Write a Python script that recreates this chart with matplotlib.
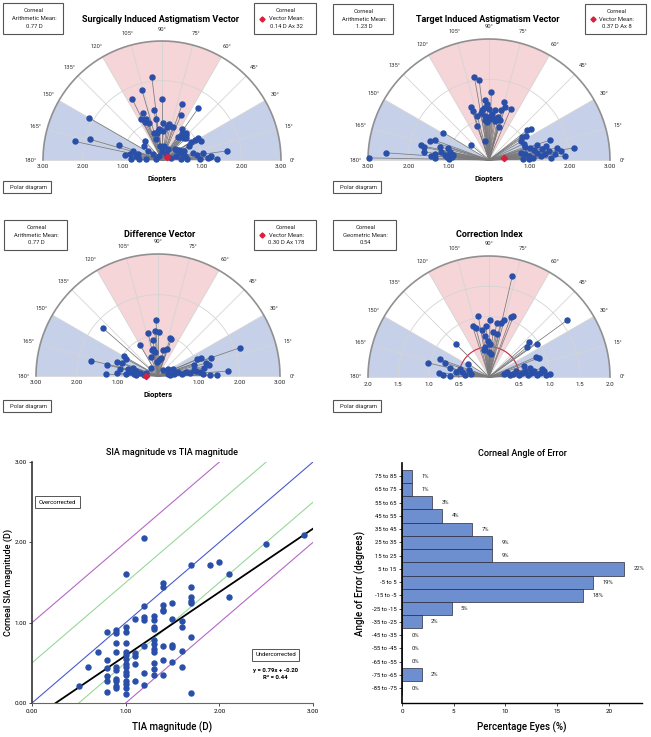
import numpy as np
import matplotlib
matplotlib.use("Agg")
import matplotlib.pyplot as plt
from matplotlib.patches import Wedge, Rectangle

plt.rcParams['font.family'] = ['Roboto', 'DejaVu Sans']

W, H = 651, 737

# ---- polar data: magnitude (D) and axis (deg) ----
sia_mag = [2.11, 1.84, 1.71, 1.53, 1.51, 1.59, 2.13, 1.29, 1.27, 1.23, 1.11, 1.15, 1.04, 0.94,
           0.92, 0.88, 0.93, 0.83, 0.73, 1.07, 1.10, 2.25, 1.88, 1.15, 1.66, 1.39, 1.22, 1.25,
           0.80, 0.95, 0.77, 1.05, 0.98, 0.78, 0.70, 0.85, 0.88, 0.85, 0.80, 0.78, 0.86, 0.75,
           0.90, 0.70, 0.82, 0.97, 0.86, 0.77, 0.45, 0.50, 0.55, 0.42, 0.52, 0.60, 0.58, 0.38,
           0.49, 0.24, 0.62, 1.05, 1.16, 0.95, 0.88, 0.83, 0.77, 0.57, 0.40, 0.66, 0.65, 0.58,
           0.42, 0.27, 0.63, 0.54, 0.36, 0.36, 0.31, 0.23, 0.18, 0.13, 0.15, 0.75, 0.72]
sia_axis = [97, 106, 116, 90, 70, 55, 150, 112, 99, 67, 111, 117, 98, 88,
            79, 72, 57, 52, 88, 32, 26, 168, 164, 161, 8, 1, 4, 5,
            12, 172, 179, 114, 110, 95, 100, 82, 76, 50, 48, 45, 46, 52,
            48, 55, 42, 32, 31, 27, 35, 30, 25, 40, 20, 22, 10, 16,
            4, 12, 2, 9, 3, 2, 8, 170, 163, 177, 175, 171, 132, 142,
            147, 148, 165, 105, 100, 80, 61, 88, 52, 127, 167, 98, 107]

tia_mag = [2.10, 1.99, 1.68, 1.48, 1.39, 1.48, 1.37, 1.38, 1.39, 1.29, 1.24, 1.30, 1.27, 1.27,
           1.14, 1.06, 1.05, 0.99, 1.10, 1.02, 0.88, 0.86, 1.10, 1.02, 0.47, 0.59, 1.32, 2.98,
           2.57, 1.73, 1.64, 1.54, 1.43, 1.62, 1.45, 1.35, 1.33, 1.06, 1.00, 1.05, 0.98, 0.92,
           0.95, 1.20, 1.29, 0.99, 1.10, 0.93, 2.12, 1.89, 1.60, 1.65, 0.95, 1.05, 1.15, 1.25,
           1.35, 1.45, 1.50, 1.40, 1.30, 1.20, 1.10, 1.00, 0.90, 0.85, 1.55, 1.70, 1.80, 0.80,
           1.00, 0.95, 1.20, 1.25, 0.90, 1.10, 1.18, 1.00, 1.15, 0.95, 1.25]
tia_axis = [100, 97, 88, 94, 92, 75, 73, 67, 109, 108, 98, 96, 90, 76,
            105, 91, 85, 81, 78, 74, 109, 74, 95, 88, 102, 140, 149, 179,
            176, 168, 169, 162, 160, 173, 176, 174, 178, 163, 168, 176, 178, 175,
            171, 38, 36, 35, 33, 30, 8, 3, 18, 5, 20, 16, 13, 17,
            12, 14, 9, 6, 4, 8, 3, 6, 10, 2, 2, 10, 7, 12,
            1, 25, 170, 165, 172, 173, 100, 96, 86, 93, 83]

dv_mag = [1.39, 1.80, 1.09, 1.12, 1.09, 0.89, 0.96, 0.98, 0.88, 0.68, 0.66, 0.60, 0.65, 0.70,
          0.45, 0.40, 0.50, 0.35, 2.12, 1.73, 1.28, 1.37, 1.14, 1.05, 1.21, 0.92, 1.15, 0.90,
          0.95, 1.05, 0.80, 0.70, 0.60, 0.50, 0.40, 0.30, 0.25, 1.69, 1.29, 1.28, 1.07, 0.96,
          0.88, 0.93, 0.95, 0.75, 0.70, 0.60, 0.55, 0.45, 0.35, 0.30, 1.27, 1.46, 1.10, 0.20,
          0.25, 0.55, 0.80, 1.00, 0.65, 0.30, 0.40]
dv_axis = [92, 139, 103, 94, 89, 98, 70, 72, 120, 100, 104, 97, 78, 71,
           82, 88, 110, 95, 19, 4, 12, 19, 23, 23, 15, 17, 10, 9,
           7, 6, 5, 8, 4, 10, 6, 3, 12, 167, 168, 178, 161, 150,
           152, 160, 169, 167, 172, 175, 168, 170, 176, 165, 1, 1, 2, 50,
           130, 178, 177, 176, 162, 35, 25]

ci_mag = [1.72, 1.59, 1.08, 1.05, 1.02, 0.95, 0.90, 0.97, 0.92, 0.88, 0.84, 0.78, 0.85, 0.75,
          0.72, 0.68, 0.60, 0.55, 0.50, 0.45, 0.42, 0.38, 0.77, 0.88, 0.96, 0.80, 0.89, 0.85,
          1.04, 0.86, 0.76, 0.67, 0.83, 0.76, 0.65, 0.41, 0.35, 0.40, 0.45, 0.50, 0.55, 0.30,
          1.01, 0.92, 0.85, 0.80, 0.75, 0.70, 0.65, 0.60, 0.55, 0.50, 0.45, 0.40, 0.35, 0.30,
          0.25, 0.60, 0.70, 0.95, 0.88]
ci_axis = [77, 36, 68, 70, 100, 89, 82, 75, 78, 108, 105, 98, 93, 85,
           80, 95, 92, 88, 97, 101, 90, 85, 135, 41, 35, 38, 21, 23,
           167, 160, 162, 167, 175, 178, 179, 148, 160, 175, 170, 165, 172, 170,
           3, 6, 4, 2, 8, 5, 3, 10, 7, 4, 12, 8, 5, 15,
           10, 18, 12, 2, 9]

# ---- scatter data ----
tia_x = [0.5, 0.6, 0.7, 0.8, 0.8, 0.8, 0.8, 0.8, 0.8,
         0.9, 0.9, 0.9, 0.9, 0.9, 0.9, 0.9, 0.9, 0.9, 0.9,
         1.0, 1.0, 1.0, 1.0, 1.0, 1.0, 1.0, 1.0, 1.0, 1.0, 1.0, 1.0, 1.0, 1.0, 1.0,
         1.1, 1.1, 1.1, 1.1, 1.1,
         1.2, 1.2, 1.2, 1.2, 1.2, 1.2, 1.2,
         1.3, 1.3, 1.3, 1.3, 1.3, 1.3, 1.3, 1.3, 1.3, 1.3, 1.3,
         1.4, 1.4, 1.4, 1.4, 1.4, 1.4, 1.4, 1.4,
         1.5, 1.5, 1.5, 1.5, 1.5,
         1.6, 1.6, 1.6, 1.6,
         1.7, 1.7, 1.7, 1.7, 1.7, 1.7, 1.7,
         1.9, 2.0, 2.1, 2.1, 2.5, 2.9]
sia_y = [0.21, 0.45, 0.64, 0.89, 0.53, 0.43, 0.33, 0.28, 0.14,
         0.91, 0.87, 0.75, 0.64, 0.45, 0.41, 0.30, 0.28, 0.21, 0.19,
         1.61, 0.94, 0.89, 0.75, 0.64, 0.60, 0.55, 0.49, 0.45, 0.39, 0.35, 0.28, 0.24, 0.19, 0.11,
         1.05, 0.62, 0.58, 0.49, 0.27,
         2.05, 1.21, 1.07, 1.03, 0.71, 0.37, 0.22,
         1.08, 1.03, 0.95, 0.92, 0.78, 0.74, 0.67, 0.64, 0.50, 0.42, 0.35,
         1.50, 1.44, 1.22, 1.16, 1.14, 0.71, 0.54, 0.35,
         1.25, 1.04, 0.72, 0.70, 0.51,
         1.02, 0.94, 0.65, 0.45,
         1.72, 1.44, 1.32, 1.27, 1.24, 0.82, 0.12,
         1.72, 1.75, 1.61, 1.32, 1.98, 2.09]
fit_slope, fit_icept = 0.79, -0.20

# ---- angle of error histogram ----
aoe_bins = ["75 to 85", "65 to 75", "55 to 65", "45 to 55", "35 to 45", "25 to 35", "15 to 25",
            "5 to 15", "-5 to 5", "-15 to -5", "-25 to -15", "-35 to -25", "-45 to -35",
            "-55 to -45", "-65 to -55", "-75 to -65", "-85 to -75"]
aoe_pct = [0.97, 0.97, 2.9, 3.9, 6.8, 8.7, 8.7, 21.5, 18.5, 17.5, 4.8, 1.9, 0, 0, 0, 1.9, 0]
aoe_lbl = ["1%", "1%", "3%", "4%", "7%", "9%", "9%", "22%", "19%", "18%", "5%", "2%",
           "0%", "0%", "0%", "2%", "0%"]

BLUE_PT = '#2a4fa8'
SHADE_B = '#c6d1e9'
SHADE_P = '#f6d5d8'

fig = plt.figure(figsize=(W / 100, H / 100), dpi=100)


def px_axes(x0, y0, x1, y1):
    return fig.add_axes([x0 / W, 1 - y1 / H, (x1 - x0) / W, (y1 - y0) / H])


def polar_panel(box, center, R, rmax, rings, rlabels, mags, axes_deg, diopters=True, vmean=None, ci=False):
    x0, y0, x1, y1 = box
    cx, cy = center
    s = R / rmax
    ax = px_axes(x0, y0, x1, y1)
    ax.set_xlim((x0 - cx) / s, (x1 - cx) / s)
    ax.set_ylim((cy - y1) / s, (cy - y0) / s)
    ax.axis('off')
    ax.add_patch(Wedge((0, 0), rmax, 0, 30, fc=SHADE_B, ec='none'))
    ax.add_patch(Wedge((0, 0), rmax, 150, 180, fc=SHADE_B, ec='none'))
    ax.add_patch(Wedge((0, 0), rmax, 60, 120, fc=SHADE_P, ec='none'))
    th = np.linspace(0, np.pi, 200)
    for r in rings:
        ax.plot(r * np.cos(th), r * np.sin(th), color='#d4d4d4', lw=0.6)
    for a in range(0, 181, 15):
        t = np.radians(a)
        ax.plot([0, rmax * np.cos(t)], [0, rmax * np.sin(t)], color='#d4d4d4', lw=0.6)
        lr = rmax * 1.1
        ax.text(lr * np.cos(t), lr * np.sin(t), f"{a}°", fontsize=4.2, ha='center', va='center', color='#333')
    ax.plot(rmax * np.cos(th), rmax * np.sin(th), color='#909090', lw=1.2)
    for r, lab in rlabels:
        ax.text(r, -7 / s, lab, fontsize=4.5, ha='center', va='center', color='#222')
        ax.text(-r, -7 / s, lab, fontsize=4.5, ha='center', va='center', color='#222')
    if diopters:
        ax.text(0, -18 / s, "Diopters", fontsize=5.5, fontweight='bold', ha='center', va='center')
    if ci:
        ax.plot(0.5 * np.cos(th), 0.5 * np.sin(th), color='#c8304a', lw=0.8)
    m = np.array(mags)
    t = np.radians(np.array(axes_deg))
    xs, ys = m * np.cos(t), m * np.sin(t)
    for xx, yy in zip(xs, ys):
        ax.plot([0, xx], [0, yy], color='#7a7a7a', lw=0.55, zorder=3)
    ax.plot(xs, ys, 'o', color=BLUE_PT, ms=3.6, mec=BLUE_PT, zorder=4)
    if vmean is not None:
        vm, va = vmean
        ax.plot(vm * np.cos(np.radians(va)), vm * np.sin(np.radians(va)), 'D', color='#d8203c', ms=3.2, zorder=5)
    return ax


rl3 = [(1, "1.00"), (2, "2.00"), (3, "3.00")]
polar_panel((0, 0, 325, 197), (162, 160), 119, 3, [1, 2], rl3, sia_mag, sia_axis, vmean=(0.14, 32))
polar_panel((325, 0, 651, 197), (489, 160), 121, 3, [1, 2], rl3, tia_mag, tia_axis, vmean=(0.37, 8))
polar_panel((0, 197, 325, 412), (158, 376), 122, 3, [1, 2], rl3, dv_mag, dv_axis, vmean=(0.30, 178))
polar_panel((325, 197, 651, 412), (489, 377), 121, 2, [0.5, 1, 1.5],
            [(0.5, "0.5"), (1, "1.0"), (1.5, "1.5"), (2, "2.0")], ci_mag, ci_axis, diopters=False, ci=True)

# ---- overlay for boxes and titles (pixel coords) ----
ov = fig.add_axes([0, 0, 1, 1])
ov.set_xlim(0, W)
ov.set_ylim(H, 0)
ov.axis('off')
ov.patch.set_visible(False)


def box(x0, y0, x1, y1, lines, diamond=False):
    ov.add_patch(Rectangle((x0, y0), x1 - x0, y1 - y0, fc='white', ec='#555', lw=0.8))
    n = len(lines)
    for i, l in enumerate(lines):
        yy = y0 + (y1 - y0) * (i + 1) / (n + 1)
        ov.text((x0 + x1) / 2 + 1, yy, l, fontsize=4.2, ha='center', va='center', color='#222')
    if diamond:
        ov.plot(x0 + 8, y0 + (y1 - y0) * 2 / 4, 'D', color='#d8203c', ms=2.6)


box(3, 3, 63, 34, ["Corneal", "Arithmetic Mean:", "0.77 D"])
box(254, 3, 316, 34, ["Corneal", "Vector Mean:", "0.14 D Ax 32"], diamond=True)
box(333, 4, 393, 34, ["Corneal", "Arithmetic Mean:", "1.23 D"])
box(585, 4, 646, 34, ["Corneal", "Vector Mean:", "0.37 D Ax 8"], diamond=True)
box(4, 220, 67, 250, ["Corneal", "Arithmetic Mean:", "0.77 D"])
box(254, 220, 316, 250, ["Corneal", "Vector Mean:", "0.30 D Ax 178"], diamond=True)
box(333, 220, 396, 250, ["Corneal", "Geometric Mean:", "0.54"])
for bx, by in [(3, 181), (333, 181), (3, 400), (333, 400)]:
    box(bx, by, bx + 48, by + 12, ["Polar diagram"])

ov.text(160, 19, "Surgically Induced Astigmatism Vector", fontsize=6.5, fontweight='bold', ha='center', va='center')
ov.text(488, 19, "Target Induced Astigmatism Vector", fontsize=6.5, fontweight='bold', ha='center', va='center')
ov.text(160, 234, "Difference Vector", fontsize=6.5, fontweight='bold', ha='center', va='center')
ov.text(489, 234, "Correction Index", fontsize=6.5, fontweight='bold', ha='center', va='center')

# ---- scatter: SIA vs TIA ----
sx = px_axes(32, 462, 313, 703)
xx = np.array([0, 3])
sx.plot([0, 2], [1, 3], color='#b468c8', lw=0.8)
sx.plot([1, 3], [0, 2], color='#b468c8', lw=0.8)
sx.plot([0, 2.5], [0.5, 3], color='#98d898', lw=0.8)
sx.plot([0.5, 3], [0, 2.5], color='#98d898', lw=0.8)
sx.plot(xx, xx, color='#4a5ad0', lw=0.8)
x_fit0 = -fit_icept / fit_slope
sx.plot([x_fit0, 3], [0, fit_slope * 3 + fit_icept], color='black', lw=1.3)
sx.plot(tia_x, sia_y, 'o', color=BLUE_PT, ms=3.6, zorder=4)
sx.set_xlim(0, 3)
sx.set_ylim(0, 3)
sx.set_xticks([0, 1, 2, 3])
sx.set_yticks([0, 1, 2, 3])
sx.set_xticklabels(["0.00", "1.00", "2.00", "3.00"], fontsize=4.5)
sx.set_yticklabels(["0.00", "1.00", "2.00", "3.00"], fontsize=4.5)
sx.tick_params(length=2, width=0.5, pad=2)
for sp in ['top', 'right']:
    sx.spines[sp].set_visible(False)
sx.spines['left'].set_linewidth(1.2)
sx.spines['left'].set_color('#333')
sx.spines['bottom'].set_linewidth(0.8)
sx.spines['bottom'].set_color('#666')
sx.set_xlabel("TIA magnitude (D)", fontsize=7, fontweight='medium', labelpad=6)
sx.set_ylabel("Corneal SIA magnitude (D)", fontsize=6.5, fontweight='medium', labelpad=1)
sx.set_title("SIA magnitude vs TIA magnitude", fontsize=6.5, fontweight='medium', pad=5)
sx.text(0.27, 2.5, "Overcorrected", fontsize=4.3, ha='center', va='center',
        bbox=dict(boxstyle='square,pad=0.6', fc='white', ec='#555', lw=0.7))
sx.text(2.6, 0.6, "Undercorrected", fontsize=4.3, ha='center', va='center',
        bbox=dict(boxstyle='square,pad=0.6', fc='white', ec='#555', lw=0.7))
sx.text(2.6, 0.36, "y = 0.79x + -0.20\nR² = 0.44", fontsize=4.3, fontweight='bold',
        ha='center', va='center', linespacing=1.3)

# ---- horizontal histogram ----
hx = px_axes(402, 463, 642, 703)
ypos = np.arange(len(aoe_bins))[::-1]
hx.barh(ypos, aoe_pct, height=1.0, color='#6e8fcf', edgecolor='#2a2a3a', lw=0.5)
for yv, v, lab in zip(ypos, aoe_pct, aoe_lbl):
    hx.text(v + 0.9, yv, lab, fontsize=4.2, ha='left', va='center', color='#222')
hx.set_yticks(ypos)
hx.set_yticklabels(aoe_bins, fontsize=4.2)
hx.set_xticks([0, 5, 10, 15, 20])
hx.set_xticklabels(["0", "5", "10", "15", "20"], fontsize=4.5)
hx.set_xlim(0, 23.2)
hx.set_ylim(-1.13, 17)
hx.tick_params(length=2, width=0.5, pad=2)
for sp in ['top', 'right']:
    hx.spines[sp].set_visible(False)
hx.spines['left'].set_linewidth(1.2)
hx.spines['bottom'].set_linewidth(1.0)
hx.set_xlabel("Percentage Eyes (%)", fontsize=7, fontweight='medium', labelpad=6)
hx.set_ylabel("Angle of Error (degrees)", fontsize=7, fontweight='medium', labelpad=4)
hx.set_title("Corneal Angle of Error", fontsize=6.5, fontweight='medium', pad=5)

fig.savefig("out.png", dpi=100)
